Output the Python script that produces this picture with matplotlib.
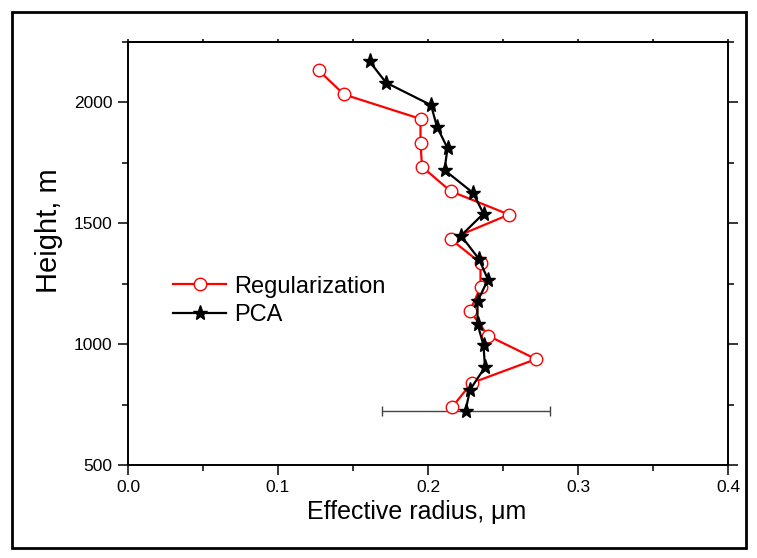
import numpy as np
import matplotlib
matplotlib.use('Agg')
import matplotlib.pyplot as plt
from matplotlib.patches import Rectangle
from matplotlib.ticker import MultipleLocator, FormatStrFormatter

plt.rcParams['font.family'] = ['Liberation Sans', 'DejaVu Sans']

# Regularization retrieval (red open circles)
reg_radius = [0.127, 0.144, 0.195, 0.195, 0.196, 0.215, 0.254, 0.215,
              0.235, 0.235, 0.228, 0.240, 0.272, 0.229, 0.216]
reg_height = [2133, 2033, 1932, 1833, 1734, 1633, 1536, 1435,
              1336, 1235, 1138, 1035, 938, 839, 739]

# PCA retrieval (black stars)
pca_radius = [0.161, 0.172, 0.202, 0.206, 0.213, 0.211, 0.230, 0.237, 0.222,
              0.234, 0.240, 0.233, 0.233, 0.237, 0.238, 0.228, 0.225]
pca_height = [2170, 2082, 1989, 1899, 1811, 1720, 1626, 1540, 1449,
              1352, 1267, 1177, 1085, 995, 905, 811, 724]

# representative error bar on the lowest PCA point
err_x = 0.225
err_y = 724
err_half = 0.056

fig = plt.figure(figsize=(7.57, 5.58), dpi=100)
ax = fig.add_axes([128/757, 1 - 465/558, (728 - 128)/757, (465 - 42)/558])

ax.errorbar([err_x], [err_y], xerr=[err_half], fmt='none', ecolor='#444444',
            elinewidth=1.0, capsize=3.5, capthick=1.0, zorder=1)
ax.plot(reg_radius, reg_height, color='red', linewidth=1.6, marker='o',
        markersize=9, markerfacecolor='white', markeredgecolor='red',
        markeredgewidth=1.0, label='Regularization', zorder=2)
ax.plot(pca_radius, pca_height, color='black', linewidth=1.6, marker='*',
        markersize=11, markerfacecolor='black', markeredgecolor='black',
        label='PCA', zorder=3)

ax.set_xlim(0.0, 0.4)
ax.set_ylim(500, 2250)
ax.xaxis.set_major_locator(MultipleLocator(0.1))
ax.xaxis.set_minor_locator(MultipleLocator(0.05))
ax.yaxis.set_major_locator(MultipleLocator(500))
ax.yaxis.set_minor_locator(MultipleLocator(250))
ax.xaxis.set_major_formatter(FormatStrFormatter('%.1f'))

for s in ax.spines.values():
    s.set_linewidth(1.4)

ax.tick_params(axis='both', which='major', direction='out', length=7,
               width=1.1, labelsize=12.5, pad=4)
ax.tick_params(axis='both', which='minor', direction='out', length=4, width=1.1)
ax.tick_params(axis='y', which='both', right=True)

# tiny ticks along the top edge
top = ax.secondary_xaxis('top')
top.xaxis.set_major_locator(MultipleLocator(0.05))
top.tick_params(direction='out', length=2.5, width=1.1, labeltop=False)
top.spines['top'].set_linewidth(1.4)

ax.set_xlabel('Effective radius, \u03bcm', fontsize=18, va='top')
ax.xaxis.set_label_coords(0.481, -0.082)
ax.set_ylabel('Height, m', fontsize=21, va='bottom')
ax.yaxis.set_label_coords(-0.108, 0.553)

ax.legend(loc='center left', bbox_to_anchor=(0.075, 0.388), frameon=False,
          fontsize=17, handlelength=2.25, handletextpad=0.35,
          labelspacing=0.27, borderaxespad=0, borderpad=0)

fig.add_artist(Rectangle((12/757, 10/558), (746 - 12)/757, (548 - 12)/558,
                         transform=fig.transFigure, fill=False,
                         edgecolor='black', linewidth=2))

plt.savefig('out.png', dpi=100, facecolor='white')
